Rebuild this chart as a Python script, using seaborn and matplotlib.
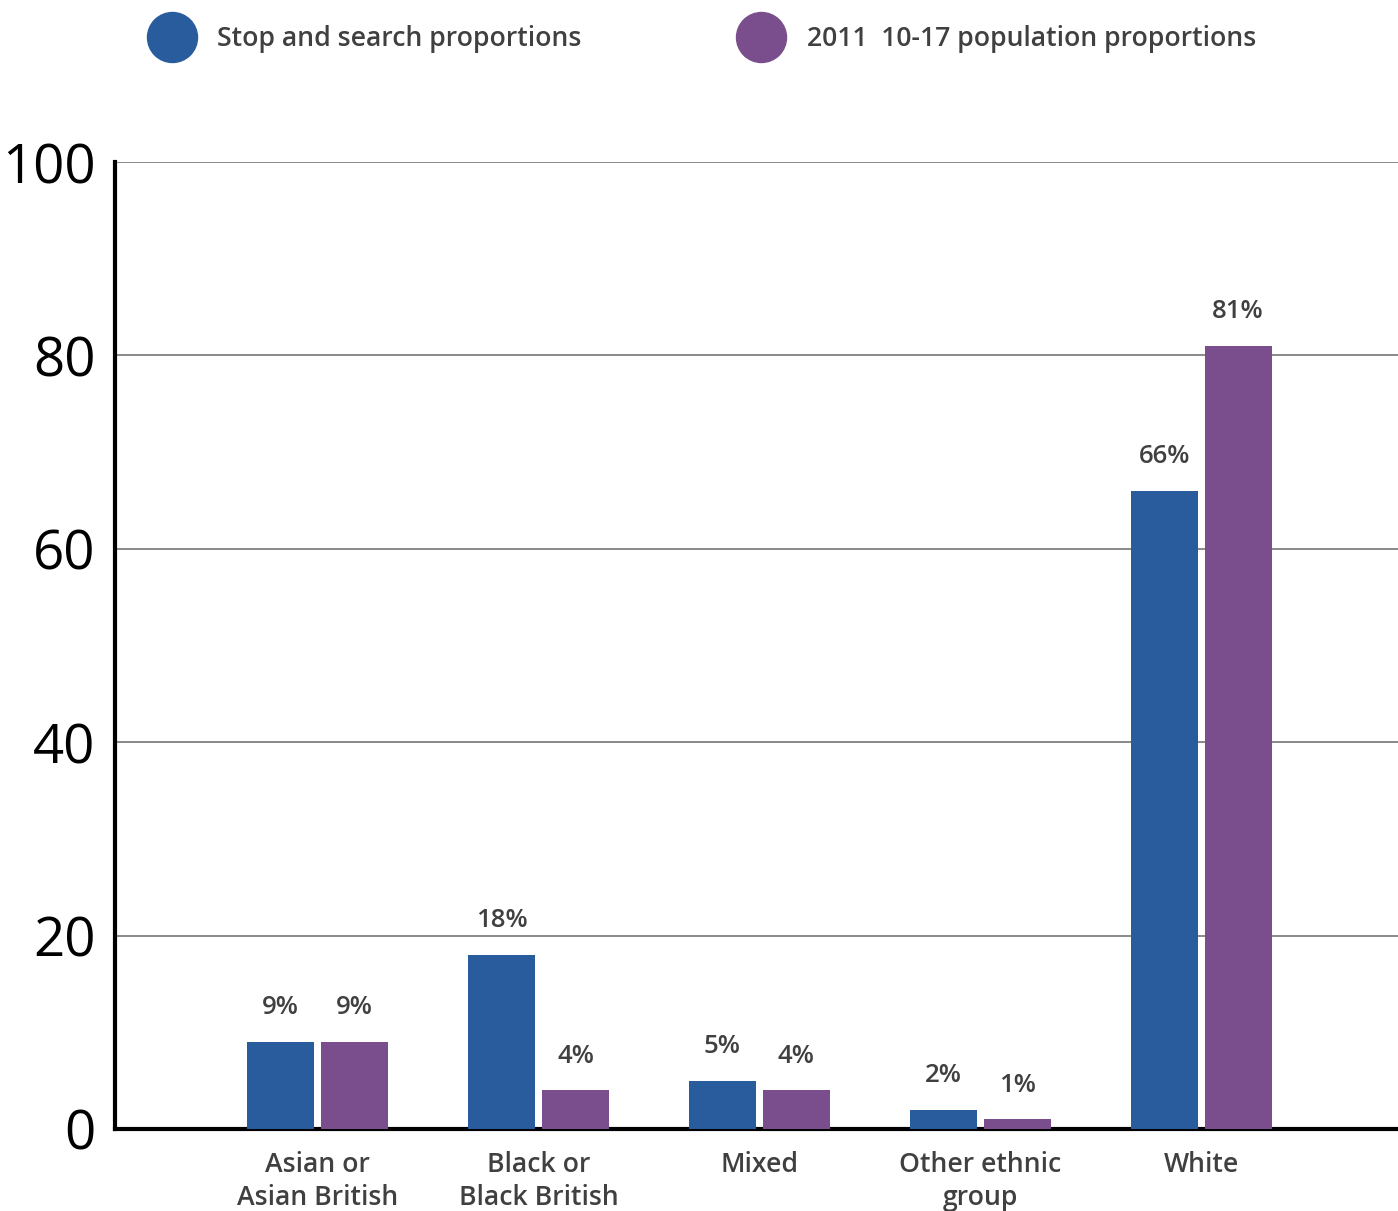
import pandas as pd
import seaborn as sns
from matplotlib import pyplot as plt
from matplotlib.lines import Line2D

sns.set_style("white")
plt.rcParams["font.family"] = ["Open Sans", "DejaVu Sans"]

categories = ["Asian or\nAsian British", "Black or\nBlack British", "Mixed",
              "Other ethnic\ngroup", "White"]
series = ["Stop and search proportions", "2011  10-17 population proportions"]
stop_search = [9, 18, 5, 2, 66]
population = [9, 4, 4, 1, 81]
colors = ["#285c9c", "#7a4e8c"]
label_color = "#404040"

df = pd.DataFrame({
    "group": categories * 2,
    "series": [series[0]] * len(categories) + [series[1]] * len(categories),
    "value": stop_search + population,
})

fig = plt.figure(figsize=(13.98, 12.11), dpi=100)
ax = fig.add_axes([115 / 1398, 82 / 1211, 1 - 115 / 1398, (1129 - 162) / 1211])

sns.barplot(data=df, x="group", y="value", hue="series", palette=colors,
            width=0.67, gap=0.095, saturation=1, legend=False, ax=ax, zorder=3,
            linewidth=0, edgecolor="none")

for cont in ax.containers:
    ax.bar_label(cont, labels=[f"{v:.0f}%" for v in cont.datavalues],
                 padding=15.5, fontsize=18.5, fontweight="semibold", color=label_color)

ax.set_ylim(0, 100)
ax.set_xlim(-0.917, 4.891)
ax.set_yticks([0, 20, 40, 60, 80, 100])
ax.set_xlabel("")
ax.set_ylabel("")
ax.yaxis.grid(True, color="#6a6a6a", linewidth=1.1, zorder=0)
ax.xaxis.grid(False)
ax.set_axisbelow(True)

for side in ["top", "right"]:
    ax.spines[side].set_visible(False)
for side in ["left", "bottom"]:
    ax.spines[side].set_color("black")
    ax.spines[side].set_linewidth(3)

ax.tick_params(axis="y", direction="in", length=23, width=2.2, color="black",
               labelsize=39.3, pad=14, labelcolor="black")
ax.tick_params(axis="x", length=0, pad=16, labelsize=19.2, labelcolor=label_color)
for t in ax.get_xticklabels():
    t.set_fontweight("semibold")
    t.set_va("top")
    t.set_linespacing(1.25)

handles = [Line2D([], [], linestyle="none", marker="o", markersize=36,
                  markerfacecolor=c, markeredgecolor=c) for c in colors]
fig.legend(handles, series, ncol=2, loc="center left",
           bbox_to_anchor=(147 / 1398, 1 - 39 / 1211), frameon=False,
           labelcolor=label_color, handlelength=1.9,
           handletextpad=0.75, columnspacing=5.8, borderaxespad=0, borderpad=0,
           prop={"weight": "semibold", "size": 19.15})

fig.savefig("out.png", dpi=100)
